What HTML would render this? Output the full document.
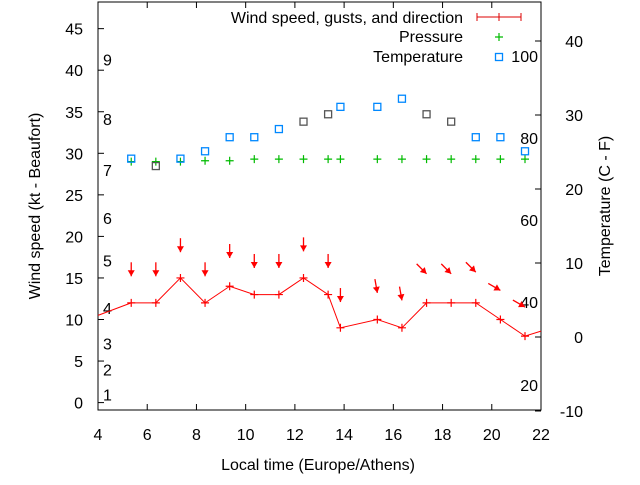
<!DOCTYPE html>
<html><head><meta charset="utf-8"><style>
body{margin:0;background:#fff;}
svg text{font-family:"Liberation Sans",sans-serif;font-size:16px;fill:#000;}
</style></head><body>
<svg id="chart" width="640" height="480" viewBox="0 0 640 480" xmlns="http://www.w3.org/2000/svg"></svg>
<script>
const times=[5.35,6.35,7.35,8.35,9.35,10.35,11.35,12.35,13.35,13.85,15.35,16.35,17.35,18.35,19.35,20.35,21.35];
const windSpeed=[12,12,15,12,14,13,13,15,13,9,10,9,12,12,12,10,8];
const windStartTime=4, windStart=10.5, windEndTime=22, windEnd=8.6;
const gusts=[15.2,15.2,18.1,15.2,17.4,16.2,16.2,18.2,16.2,12.1,13.2,12.3,15.5,15.5,15.7,13.5,11.5];
const windDir=[0,0,0,0,0,0,0,0,0,0,350,350,315,315,315,300,300];
const pressure=[29.0,29.0,29.0,29.1,29.1,29.3,29.3,29.3,29.3,29.3,29.3,29.3,29.3,29.3,29.3,29.3,29.3];
const temperature=[24.1,23.1,24.1,25.1,27,27,28.1,29.1,30.1,31.1,31.1,32.2,30.1,29.1,27,27,25.1];
const tempGrey=[0,1,0,0,0,0,0,1,1,0,0,0,1,1,0,0,0];
const xTicks=[4,6,8,10,12,14,16,18,20,22];
const yTicks=[0,5,10,15,20,25,30,35,40,45];
const y2Ticks=[-10,0,10,20,30,40];
const beaufort=[[1,1],[2,4],[3,7.1],[4,11.4],[5,17.1],[6,22.2],[7,28],[8,34.1],[9,41.3]];
const fahr=[[100,38],[80,26.9],[60,15.8],[40,4.7],[20,-6.5]];

const L=98,R=541,T=2,B=410;
const X=t=>L+(t-4)*(R-L)/18;
const Y=v=>402.6-v*8.31;
const Y2=v=>337-v*7.4;
const svg=document.getElementById('chart');
const NS='http://www.w3.org/2000/svg';
function mk(tag,attrs,name,txt){const e=document.createElementNS(NS,tag);for(const k in attrs)e.setAttribute(k,attrs[k]);


if(txt!==undefined)e.textContent=txt;svg.appendChild(e);return e;}

mk('rect',{x:L,y:T,width:R-L,height:B-T,fill:'none',stroke:'#000','stroke-width':1},'plot-frame');
xTicks.forEach(t=>{const x=X(t);
 mk('line',{x1:x,y1:B,x2:x,y2:B-6,stroke:'#000'},'x-tick');
 mk('line',{x1:x,y1:T,x2:x,y2:T+6,stroke:'#000'},'x-tick-top');
 mk('text',{x:x,y:B+30,'text-anchor':'middle'},'x-tick-label',t);});
yTicks.forEach(v=>{const y=Y(v);
 mk('line',{x1:L,y1:y,x2:L+6,y2:y,stroke:'#000'},'y-tick');
 mk('text',{x:L-15,y:y+6,'text-anchor':'end'},'y-tick-label',v);});
y2Ticks.forEach(v=>{const y=Y2(v);
 mk('line',{x1:R,y1:y,x2:R-6,y2:y,stroke:'#000'},'y2-tick');
 mk('text',{x:R+42,y:y+6,'text-anchor':'end'},'y2-tick-label',v);});
beaufort.forEach(b=>mk('text',{x:103,y:Y(b[1])+6},'beaufort-label',b[0]));
fahr.forEach(f=>mk('text',{x:538,y:Y2(f[1])+6,'text-anchor':'end'},'fahrenheit-label',f[0]));

mk('text',{x:318,y:470,'text-anchor':'middle'},'x-axis-title','Local time (Europe/Athens)');
mk('text',{x:40,y:206,'text-anchor':'middle',transform:'rotate(-90 40 206)'},'y-axis-title','Wind speed (kt - Beaufort)');
mk('text',{x:610,y:206,'text-anchor':'middle',transform:'rotate(-90 610 206)'},'y2-axis-title','Temperature (C - F)');

let pts=[[X(windStartTime),Y(windStart)]];
times.forEach((t,i)=>pts.push([X(t),Y(windSpeed[i])]));
pts.push([X(windEndTime),Y(windEnd)]);
mk('polyline',{points:pts.map(p=>p.join(',')).join(' '),fill:'none',stroke:'#f00','stroke-width':1},'wind-speed-line');
times.forEach((t,i)=>{const x=X(t),y=Y(windSpeed[i]);
 mk('path',{d:`M${x-4},${y}H${x+4}M${x},${y-4}V${y+4}`,stroke:'#f00','stroke-width':1.2},'wind-point');});
times.forEach((t,i)=>{const x=X(t),y=Y(gusts[i]);const a=windDir[i]*Math.PI/180;
 const dx=Math.sin(a)*14,dy=-Math.cos(a)*14;const ux=dx/14,uy=dy/14;
 const hx=x+ux*6,hy=y+uy*6;const px=-uy*3.5,py=ux*3.5;
 mk('line',{x1:x+dx,y1:y+dy,x2:x,y2:y,stroke:'#f00','stroke-width':1.3},'gust-arrow');
 mk('polygon',{points:`${x},${y} ${hx+px},${hy+py} ${hx-px},${hy-py}`,fill:'#f00'},'gust-arrow-head');});
times.forEach((t,i)=>{const x=X(t),y=Y(pressure[i]);
 mk('path',{d:`M${x-4},${y}H${x+4}M${x},${y-4}V${y+4}`,stroke:'#0b0','stroke-width':1.2},'pressure-point');});
times.forEach((t,i)=>{const x=X(t),y=Y2(temperature[i]);
 mk('rect',{x:x-3.5,y:y-3.5,width:7,height:7,fill:'none',stroke:tempGrey[i]?'#555':'#08f','stroke-width':1.3},'temperature-point');});

mk('text',{x:463,y:23,'text-anchor':'end'},'legend-wind-label','Wind speed, gusts, and direction');
mk('path',{d:'M477,17H521M477,13V21M499,13V21M521,13V21',stroke:'#d00','stroke-width':1},'legend-wind-sample');
mk('text',{x:463,y:42,'text-anchor':'end'},'legend-pressure-label','Pressure');
mk('path',{d:'M495,37H503M499,33V41',stroke:'#0b0','stroke-width':1.2},'legend-pressure-sample');
mk('text',{x:463,y:62,'text-anchor':'end'},'legend-temperature-label','Temperature');
mk('rect',{x:495.5,y:53.5,width:7,height:7,fill:'none',stroke:'#08f','stroke-width':1.3},'legend-temperature-sample');
</script>
</body></html>
